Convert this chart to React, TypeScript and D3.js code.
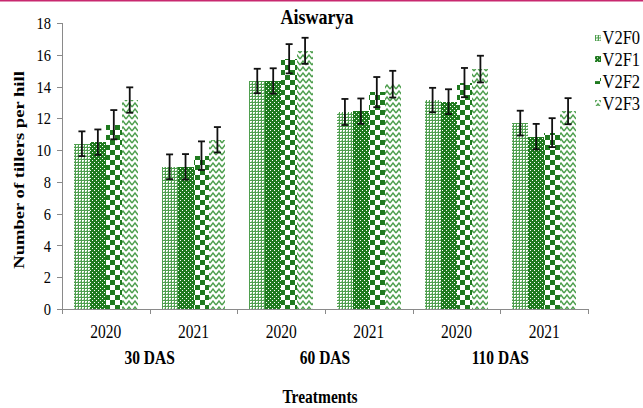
import React from "react";
import * as d3 from "d3";

const width = 643;
const height = 408;
const margin = { top: 23, right: 55, bottom: 99, left: 62 };

// chart values
const years = ["2020", "2021", "2020", "2021", "2020", "2021"];
const stages = ["30 DAS", "60 DAS", "110 DAS"];
const seriesNames = ["V2F0", "V2F1", "V2F2", "V2F3"];
const v2f0 = [10.4, 8.95, 14.35, 12.4, 13.15, 11.7];
const v2f1 = [10.5, 8.95, 14.35, 12.45, 13.05, 10.85];
const v2f2 = [11.6, 9.65, 15.75, 13.65, 14.25, 11.1];
const v2f3 = [13.15, 10.65, 16.25, 14.15, 15.1, 12.45];
const err0 = [0.78, 0.78, 0.77, 0.82, 0.77, 0.78];
const err1 = [0.8, 0.8, 0.8, 0.8, 0.78, 0.8];
const err2 = [0.92, 0.9, 0.92, 0.95, 0.92, 0.91];
const err3 = [0.8, 0.8, 0.82, 0.84, 0.84, 0.82];
const yTicks = [0, 2, 4, 6, 8, 10, 12, 14, 16, 18];

const values = [v2f0, v2f1, v2f2, v2f3];
const errors = [err0, err1, err2, err3];

const dark = "#1f7a1f";
const light = "#4f9f4f";
const axisColor = "#8a8a8a";
const serif = "Times New Roman, Liberation Serif, Tinos, serif";
const stretch = 1.2;

const Patterns = () => (
  <defs>
    <pattern id="p0" width={3} height={3} patternUnits="userSpaceOnUse">
      <rect width={3} height={3} fill="#fff" />
      <rect width={3} height={1} fill={light} />
      <rect width={1} height={3} fill={light} />
      <rect x={2} y={2} width={1} height={1} fill="#a9cfa9" />
    </pattern>
    <pattern id="p1" width={4} height={4} patternUnits="userSpaceOnUse">
      <rect width={4} height={4} fill={dark} />
      <rect x={0} y={0} width={1} height={1} fill="#fff" />
      <rect x={2} y={2} width={1} height={1} fill="#fff" />
    </pattern>
    <pattern id="p2" width={10} height={10} patternUnits="userSpaceOnUse">
      <rect width={10} height={10} fill="#fff" />
      <rect x={0} y={0} width={5} height={5} fill={dark} />
      <rect x={5} y={5} width={5} height={5} fill={dark} />
    </pattern>
    <pattern id="p3" width={6} height={6} patternUnits="userSpaceOnUse">
      <rect width={6} height={6} fill="#fff" />
      <path d="M0,5 L3,1 L6,5" fill="none" stroke={light} strokeWidth={1.4} />
    </pattern>
  </defs>
);

const Label = ({ x, y, size, bold, anchor, children }) => (
  <text
    transform={`translate(${x},${y}) scale(1,${stretch})`}
    style={{ fontFamily: serif }}
    fontSize={size}
    fontWeight={bold ? "bold" : "normal"}
    textAnchor={anchor || "middle"}
    dy="0.35em"
    fill="#000"
  >
    {children}
  </text>
);

export default function App() {
  const x0 = d3
    .scaleBand()
    .domain(years.map((_, i) => String(i)))
    .range([margin.left, width - margin.right]);
  const x1 = d3
    .scaleBand()
    .domain(seriesNames)
    .range([0, x0.bandwidth()])
    .paddingInner(0)
    .paddingOuter(0.75);
  const y = d3
    .scaleLinear()
    .domain([0, 18])
    .range([height - margin.bottom, margin.top]);

  const base = y(0);
  const bw = x0.bandwidth();

  return (
    <svg
      width={width}
      height={height}
      style={{ position: "absolute", left: 0, top: 0, background: "#fff" }}
    >
      <Patterns />
      <rect x={0} y={0} width={width} height={1.5} fill="#c8296f" />

      <Label x={317} y={16} size={18} bold>
        Aiswarya
      </Label>

      {/* y axis */}
      <line x1={margin.left + 0.5} x2={margin.left + 0.5} y1={y(18)} y2={base} stroke={axisColor} />
      {yTicks.map((t) => (
        <g key={t}>
          <line
            x1={margin.left - 5}
            x2={margin.left}
            y1={Math.round(y(t)) + 0.5}
            y2={Math.round(y(t)) + 0.5}
            stroke={axisColor}
          />
          <Label x={51} y={y(t)} size={14.5} anchor="end">
            {t}
          </Label>
        </g>
      ))}
      <text
        transform={`translate(19,${(y(0) + y(18)) / 2 + 4}) rotate(-90) scale(${stretch},1)`}
        style={{ fontFamily: serif }}
        fontSize={15.5}
        fontWeight="bold"
        textAnchor="middle"
        dy="0.35em"
      >
        Number of tillers per hill
      </text>

      {/* bars */}
      {seriesNames.map((s, si) =>
        values[si].map((v, ci) => {
          const bx = x0(String(ci)) + x1(s);
          const top = y(v);
          const cx = bx + x1.bandwidth() / 2;
          const e = errors[si][ci];
          return (
            <g key={s + ci}>
              <rect
                x={bx}
                y={top}
                width={x1.bandwidth()}
                height={base - top}
                fill={`url(#p${si})`}
                shapeRendering="crispEdges"
              />
              <line x1={cx} x2={cx} y1={y(v + e)} y2={y(v - e)} stroke="#111" strokeWidth={1.8} />
              <line x1={cx - 3.5} x2={cx + 3.5} y1={y(v + e)} y2={y(v + e)} stroke="#111" strokeWidth={1.8} />
              <line x1={cx - 3.5} x2={cx + 3.5} y1={y(v - e)} y2={y(v - e)} stroke="#111" strokeWidth={1.8} />
            </g>
          );
        })
      )}

      {/* x axis */}
      <line x1={margin.left} x2={width - margin.right} y1={base + 0.5} y2={base + 0.5} stroke={axisColor} />
      {d3.range(years.length + 1).map((i) => {
        const tx = Math.round(margin.left + i * bw) + 0.5;
        return <line key={i} x1={tx} x2={tx} y1={base} y2={base + 5} stroke={axisColor} />;
      })}
      {years.map((yr, i) => (
        <Label key={i} x={x0(String(i)) + bw / 2} y={331.5} size={15.5}>
          {yr}
        </Label>
      ))}
      {stages.map((st, i) => (
        <Label key={st} x={margin.left + (2 * i + 1) * bw} y={357.5} size={15.5} bold>
          {st}
        </Label>
      ))}
      <Label x={320} y={396} size={15.5} bold>
        Treatments
      </Label>

      {/* legend */}
      {seriesNames.map((s, si) => (
        <g key={s} transform={`translate(595,${37.5 + si * 21.8})`}>
          <rect x={0} y={-3} width={6} height={6} fill={`url(#p${si})`} shapeRendering="crispEdges" />
          <Label x={7.5} y={0} size={16.5} anchor="start">
            {s}
          </Label>
        </g>
      ))}
    </svg>
  );
}
